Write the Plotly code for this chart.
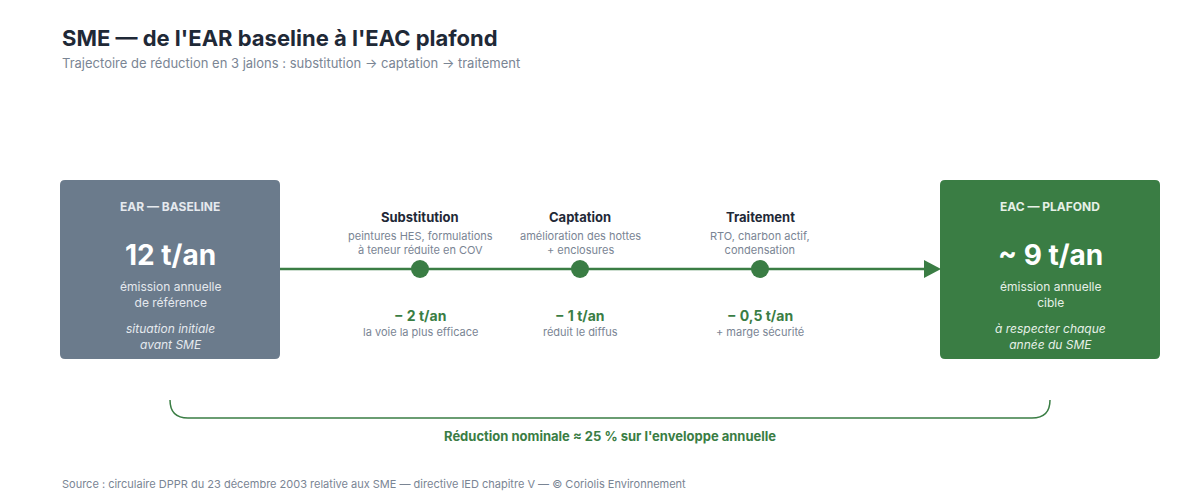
import plotly.graph_objects as go

title = "SME — de l'EAR baseline à l'EAC plafond"
subtitle = "Trajectoire de réduction en 3 jalons : substitution → captation → traitement"
stages = ["Substitution", "Captation", "Traitement"]
stage_desc = ["peintures HES, formulations<br>à teneur réduite en COV",
              "amélioration des hottes<br>+ enclosures",
              "RTO, charbon actif,<br>condensation"]
reductions = ["− 2 t/an", "− 1 t/an", "− 0,5 t/an"]
red_notes = ["la voie la plus efficace", "réduit le diffus", "+ marge sécurité"]
baseline = {"head": "EAR — BASELINE", "val": "12 t/an", "desc": "émission annuelle<br>de référence", "note": "situation initiale<br>avant SME"}
target = {"head": "EAC — PLAFOND", "val": "~ 9 t/an", "desc": "émission annuelle<br>cible", "note": "à respecter chaque<br>année du SME"}
summary = "Réduction nominale ≈ 25 % sur l'enveloppe annuelle"
source = "Source : circulaire DPPR du 23 décembre 2003 relative aux SME — directive IED chapitre V — © Coriolis Environnement"

GREEN = "#3a7d44"; GREY = "#6b7b8c"; DARK = "#1f2937"; MUTED = "#7a8594"
FONT = "Inter"
stage_x = [420, 580, 760]
LY = 269

fig = go.Figure()

def rrect(x0, y0, x1, y1, r, color):
    p = (f"M{x0+r},{y0} L{x1-r},{y0} Q{x1},{y0} {x1},{y0+r} L{x1},{y1-r} Q{x1},{y1} {x1-r},{y1} "
         f"L{x0+r},{y1} Q{x0},{y1} {x0},{y1-r} L{x0},{y0+r} Q{x0},{y0} {x0+r},{y0} Z")
    fig.add_shape(type="path", path=p, fillcolor=color, line_width=0, layer="below")

rrect(60, 180, 280, 359, 5, GREY)
rrect(940, 180, 1160, 359, 5, GREEN)
fig.add_shape(type="line", x0=280, x1=926, y0=LY, y1=LY, line=dict(color=GREEN, width=2.5))
fig.add_shape(type="path", path=f"M924,{LY-9} L941,{LY} L924,{LY+9} Z", fillcolor=GREEN, line_width=0)
fig.add_shape(type="path", path="M170,400 Q170,418 188,418 L1032,418 Q1050,418 1050,400",
              line=dict(color=GREEN, width=1.5))

fig.add_trace(go.Scatter(x=stage_x, y=[LY]*3, mode="markers",
                         marker=dict(size=18, color=GREEN, line=dict(width=0)), hoverinfo="skip"))

def t(x, y, s, size, color, bold=False, italic=False, anchor="center", xa="center"):
    if bold: s = f"<b>{s}</b>"
    if italic: s = f"<i>{s}</i>"
    fig.add_annotation(x=x, y=y, text=s, showarrow=False, xanchor=xa, yanchor="middle",
                       font=dict(family=FONT, size=size, color=color), align=anchor)

t(60, 38, title, 22, DARK, bold=True, anchor="left", xa="left")
t(60, 63, subtitle, 13, MUTED, anchor="left", xa="left")

for cx, b, hc in [(170, baseline, "#e5e9ee"), (1050, target, "#e6f0e7")]:
    t(cx, 206, b["head"], 12, hc, bold=True)
    t(cx, 255, b["val"], 28, "white", bold=True)
    t(cx, 294, b["desc"], 12, hc)
    t(cx, 336, b["note"], 12, hc, italic=True)

for x, s, d, r, n in zip(stage_x, stages, stage_desc, reductions, red_notes):
    t(x, 217, s, 13, DARK, bold=True)
    t(x, 243, d, 11, MUTED)
    t(x, 315, r, 14, GREEN, bold=True)
    t(x, 332, n, 11, MUTED)

t(610, 436, summary, 13, GREEN, bold=True)
t(60, 484, source, 11, MUTED, anchor="left", xa="left")

fig.update_layout(width=1200, height=500, margin=dict(l=0, r=0, t=0, b=0),
                  paper_bgcolor="white", plot_bgcolor="white", showlegend=False,
                  xaxis=dict(range=[8, 1208], visible=False, fixedrange=True),
                  yaxis=dict(range=[508, 8], visible=False, fixedrange=True))
fig.write_html("out.html")
